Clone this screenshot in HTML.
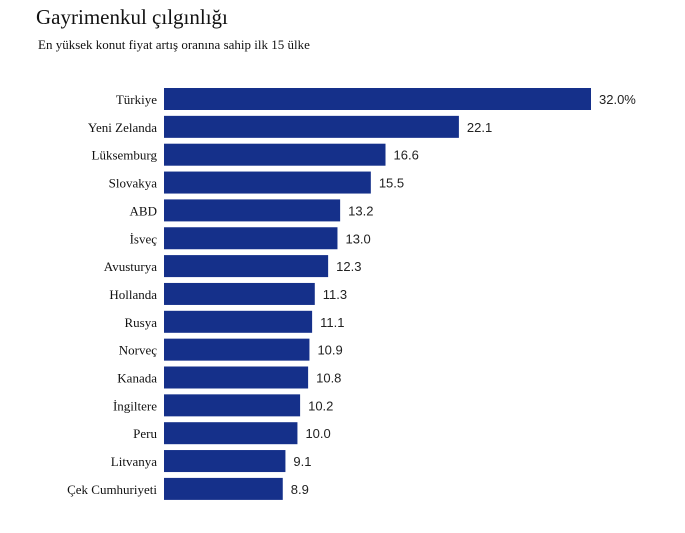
<!DOCTYPE html>
<html><head><meta charset="utf-8"><style>
body{margin:0;background:#fff;width:685px;height:528px;overflow:hidden}
svg text{font-family:"Liberation Serif",serif}
.v{font-family:"Liberation Sans",sans-serif;font-size:13px;fill:#222}
</style></head><body>
<svg id="c" width="685" height="528">
<text x="36" y="24" font-size="21" fill="#111">Gayrimenkul çılgınlığı</text>
<text x="38" y="49" font-size="13" fill="#111">En yüksek konut fiyat artış oranına sahip ilk 15 ülke</text>
<g id="bars"></g>
</svg>
<script>
const countries=["Türkiye","Yeni Zelanda","Lüksemburg","Slovakya","ABD","İsveç","Avusturya","Hollanda","Rusya","Norveç","Kanada","İngiltere","Peru","Litvanya","Çek Cumhuriyeti"];
const values=[32.0,22.1,16.6,15.5,13.2,13.0,12.3,11.3,11.1,10.9,10.8,10.2,10.0,9.1,8.9];
const valueLabels=["32.0%","22.1","16.6","15.5","13.2","13.0","12.3","11.3","11.1","10.9","10.8","10.2","10.0","9.1","8.9"];
const x0=164,scale=427/32,y0=88,step=27.85,bh=22;
const xs=v=>x0+v*scale, ys=i=>y0+i*step;
const g=document.getElementById('bars'),NS="http://www.w3.org/2000/svg";
countries.forEach((c,i)=>{
 const r=document.createElementNS(NS,'rect');
 r.setAttribute('x',x0);r.setAttribute('y',ys(i));
 r.setAttribute('width',xs(values[i])-x0);r.setAttribute('height',bh);
 r.setAttribute('fill','#15308a');
 
 
 g.appendChild(r);
 const t=document.createElementNS(NS,'text');
 t.setAttribute('x',157);t.setAttribute('y',ys(i)+bh/2+5);
 t.setAttribute('text-anchor','end');t.setAttribute('font-size','13');t.setAttribute('fill','#111');
 t.textContent=c;
 
 
 g.appendChild(t);
 const v=document.createElementNS(NS,'text');
 v.setAttribute('x',xs(values[i])+8);v.setAttribute('y',ys(i)+bh/2+5);
 v.setAttribute('class','v');
 v.textContent=valueLabels[i];
 
 
 g.appendChild(v);
});
</script>
</body></html>
